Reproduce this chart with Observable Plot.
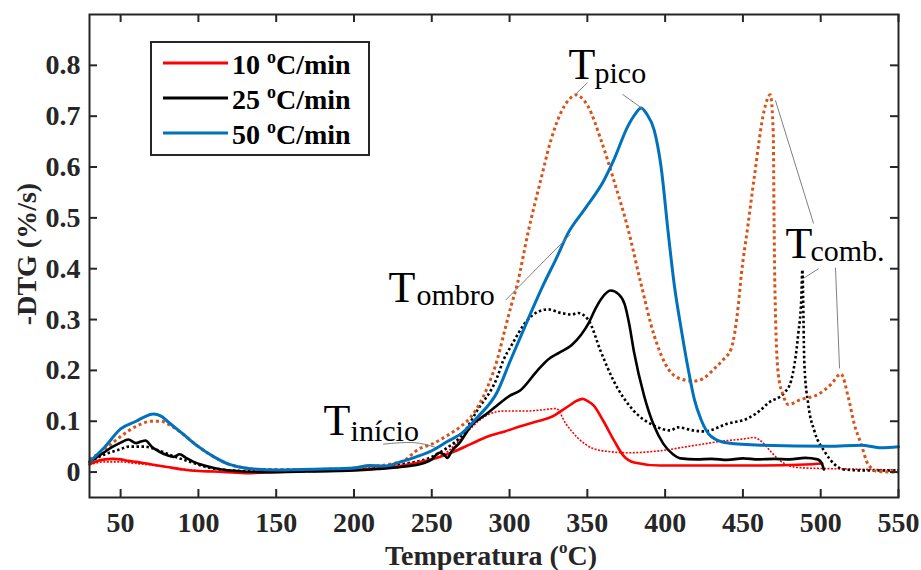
<!DOCTYPE html>
<html><head><meta charset="utf-8">
<script src="https://cdn.jsdelivr.net/npm/d3@7"></script>
<script src="https://cdn.jsdelivr.net/npm/@observablehq/plot@0.6"></script>
<style>body{margin:0;background:#fff}</style>
</head><body><div id="chart"></div>
<script>
const FONT = '"Liberation Serif", "Times New Roman", serif';
const xTicks = [50,100,150,200,250,300,350,400,450,500,550];
const yTicks = [0,0.1,0.2,0.3,0.4,0.5,0.6,0.7,0.8];
const legendLabels = ["10 ", "25 ", "50 "];

// 10 ºC/min (solid red)
const red10 = [[30,0.015],[35,0.022],[40,0.025],[45,0.026],[50,0.025],[55,0.022],[60,0.02],[70,0.015],[80,0.01],[90,0.005],[100,0.002],[110,0.001],[130,-0.002],[150,0],[170,0.002],[190,0.003],[200,0.004],[220,0.008],[240,0.018],[250,0.025],[264,0.04],[275,0.055],[286,0.07],[297,0.08],[307,0.09],[318,0.1],[328,0.11],[333,0.12],[338,0.13],[343,0.14],[347,0.144],[350,0.14],[354,0.131],[360,0.102],[367,0.063],[373,0.033],[380,0.019],[397,0.013],[430,0.013],[462,0.013],[490,0.015],[501,0.017]];
// 25 ºC/min (solid black)
const black25 = [[30,0.02],[35,0.03],[40,0.04],[45,0.05],[50,0.058],[55,0.064],[60,0.057],[63,0.06],[66,0.062],[70,0.05],[75,0.04],[80,0.033],[84,0.03],[88,0.035],[92,0.028],[97,0.02],[105,0.012],[115,0.005],[125,0.002],[140,0],[170,0.001],[190,0.002],[200,0.003],[215,0.006],[230,0.01],[245,0.018],[250,0.025],[255,0.038],[258,0.034],[260,0.028],[263,0.042],[268,0.058],[275,0.09],[286,0.116],[292,0.131],[300,0.15],[307,0.161],[318,0.2],[325,0.222],[332,0.235],[340,0.25],[346,0.27],[351,0.294],[355,0.32],[359,0.341],[365,0.357],[370,0.35],[374,0.33],[377,0.29],[380,0.236],[386.5,0.15],[393,0.09],[399,0.055],[405,0.035],[410,0.027],[420,0.025],[430,0.026],[440,0.024],[450,0.027],[460,0.025],[470,0.026],[480,0.025],[490,0.028],[498,0.025],[501,0.015],[502,0.005]];
// 50 ºC/min (solid blue)
const blue50 = [[30,0.02],[40,0.05],[50,0.085],[60,0.1],[65,0.108],[71,0.114],[76,0.11],[80,0.1],[90,0.075],[100,0.05],[110,0.03],[120,0.015],[130,0.008],[150,0.004],[180,0.006],[200,0.008],[210,0.013],[220,0.012],[230,0.02],[240,0.03],[250,0.042],[260,0.06],[270,0.078],[279.4,0.108],[292,0.157],[300.6,0.22],[311.8,0.3],[322,0.37],[330,0.42],[337.6,0.47],[349,0.52],[360.7,0.574],[367,0.614],[376,0.68],[381,0.705],[384.5,0.716],[388,0.705],[393,0.672],[397.4,0.6],[402,0.47],[405.8,0.37],[410.3,0.282],[414.8,0.203],[418.7,0.144],[423,0.104],[429.6,0.07],[440.5,0.057],[461.8,0.053],[505,0.051],[526,0.053],[539,0.048],[550,0.05]];
// dotted series
const redDot = [[30,0.015],[40,0.02],[50,0.02],[60,0.017],[80,0.01],[100,0.003],[130,0],[160,0.002],[200,0.005],[230,0.012],[250,0.025],[260,0.04],[270,0.07],[280,0.1],[287,0.114],[296,0.12],[310,0.12],[320,0.122],[330,0.125],[336,0.096],[343.6,0.068],[354,0.046],[365,0.04],[375.8,0.038],[397,0.042],[418,0.052],[440,0.062],[450,0.065],[457,0.068],[462,0.06],[468,0.04],[473,0.025],[480,0.012],[490,0.008],[520,0.006],[550,0.004]];
const blackDot = [[30,0.02],[40,0.035],[50,0.045],[55,0.05],[65,0.05],[75,0.042],[85,0.03],[95,0.02],[105,0.01],[115,0.005],[130,0.002],[160,0.002],[200,0.005],[230,0.015],[250,0.03],[260,0.048],[268.7,0.07],[279.4,0.122],[292,0.186],[296,0.22],[301,0.248],[311.8,0.3],[318,0.315],[324.7,0.32],[333,0.313],[340,0.31],[344,0.313],[350.5,0.3],[358.8,0.236],[366.8,0.18],[379.7,0.121],[392.5,0.092],[403.4,0.082],[408,0.088],[418,0.082],[425,0.08],[440,0.095],[453.4,0.106],[461,0.121],[466.3,0.136],[476.6,0.156],[481,0.18],[485.6,0.273],[487.5,0.34],[488.2,0.398],[489.5,0.212],[492,0.133],[496,0.08],[502.6,0.04],[509,0.015],[515,0.005],[530,0.003],[550,0.003]];
const orangeDot = [[30,0.025],[40,0.045],[50,0.07],[60,0.09],[70,0.1],[76,0.1],[80,0.095],[90,0.075],[100,0.05],[110,0.03],[120,0.015],[130,0.008],[140,0.005],[170,0.005],[200,0.008],[230,0.02],[242.7,0.047],[250,0.055],[260,0.072],[268.7,0.09],[275,0.108],[285.8,0.167],[292,0.22],[297,0.28],[301,0.327],[305,0.37],[311.8,0.47],[320,0.574],[326.6,0.653],[333,0.707],[338,0.732],[342.7,0.742],[346,0.737],[350.5,0.719],[358.8,0.653],[367,0.574],[376,0.48],[384.5,0.37],[393,0.268],[402,0.203],[410.3,0.183],[418.7,0.179],[425,0.185],[431.5,0.203],[437,0.22],[442.5,0.243],[447,0.327],[449,0.389],[453,0.48],[457.3,0.58],[463.7,0.712],[467.6,0.742],[469.5,0.667],[470,0.5],[470.5,0.37],[472.7,0.193],[476,0.15],[479,0.133],[487.5,0.143],[498.5,0.153],[506.8,0.173],[513,0.193],[517.8,0.146],[521.6,0.094],[526,0.055],[530.5,0.015],[537,0.001],[550,0]];

const annoT = [
  {x:180.4, y:0.072, sx:197.8, sy:0.062, sub:"início"},
  {x:222.2, y:0.334, sx:240.2, sy:0.328, sub:"ombro"},
  {x:337.9, y:0.774, sx:354.6, sy:0.766, sub:"pico"},
  {x:477.4, y:0.422, sx:493.4, sy:0.416, sub:"comb."}
];
const leaders = [
  [297.4,0.338,339.2,0.468],
  [350.1,0.766,342.4,0.743],
  [372.6,0.743,385.4,0.715],
  [470.9,0.731,495.4,0.489],
  [498.6,0.400,488.9,0.381],
  [509.5,0.402,512.1,0.204]
];
const inicioLeader = [[219,0.055],[238,0.058],[252,0.049]];

const xs = d => d[0], ys = d => d[1];
const tx = 8/1.5558, ty = 8/508.4;
const C = "monotone-x";

const svg = Plot.plot({
  width: 921, height: 570,
  marginLeft: 89, marginRight: 23, marginTop: 14, marginBottom: 73,
  x: {domain: [30, 550]},
  y: {domain: [-0.05, 0.9]},
  style: {fontFamily: FONT, fontSize: "28px", fontWeight: "bold", color: "#262626", background: "white", overflow: "visible"},
  marks: [
    Plot.axisX({ticks: xTicks, tickSize: 0, tickPadding: 15, label: null, fill: "#262626"}),
    Plot.axisY({ticks: yTicks, tickSize: 0, tickPadding: 9, label: null, tickFormat: d => String(d), fill: "#262626"}),
    Plot.line(redDot, {x: xs, y: ys, curve: C, stroke: "#ff0000", strokeWidth: 1.6, strokeDasharray: "2,1.5", strokeLinecap: "butt", strokeLinejoin: "miter"}),
    Plot.line(blackDot, {x: xs, y: ys, curve: C, stroke: "#000000", strokeWidth: 2.6, strokeDasharray: "2.5,2.5", strokeLinecap: "butt", strokeLinejoin: "miter"}),
    Plot.line(orangeDot, {x: xs, y: ys, curve: C, stroke: "#D95319", strokeWidth: 3, strokeDasharray: "3,3", strokeLinecap: "butt", strokeLinejoin: "miter"}),
    Plot.line(red10, {x: xs, y: ys, curve: C, stroke: "#ff0000", strokeWidth: 2.6}),
    Plot.line(black25, {x: xs, y: ys, curve: C, stroke: "#000000", strokeWidth: 2.6}),
    Plot.line(blue50, {x: xs, y: ys, curve: C, stroke: "#0072BD", strokeWidth: 3}),
    Plot.link(leaders, {x1: d=>d[0], y1: d=>d[1], x2: d=>d[2], y2: d=>d[3], stroke: "#808080", strokeWidth: 1}),
    Plot.line(inicioLeader, {x: xs, y: ys, stroke: "#808080", strokeWidth: 1, curve: "natural"}),
    Plot.text(annoT, {x: "x", y: "y", text: () => "T", textAnchor: "start", lineAnchor: "bottom", fontSize: 44, fontWeight: "normal", fill: "black"}),
    Plot.text(annoT, {x: "sx", y: "sy", text: "sub", textAnchor: "start", lineAnchor: "bottom", fontSize: 30, fontWeight: "normal", fill: "black"}),
    Plot.frame({stroke: "#262626", strokeWidth: 2}),
    Plot.ruleX(xTicks, {x: d => d, y1: -0.05, y2: -0.05 + ty, stroke: "#262626", strokeWidth: 2}),
    Plot.ruleX(xTicks, {x: d => d, y1: 0.9, y2: 0.9 - ty, stroke: "#262626", strokeWidth: 2}),
    Plot.ruleY(yTicks, {y: d => d, x1: 30, x2: 30 + tx, stroke: "#262626", strokeWidth: 2}),
    Plot.ruleY(yTicks, {y: d => d, x1: 550, x2: 550 - tx, stroke: "#262626", strokeWidth: 2})
  ]
});

const s = d3.select(svg);
// legend
const lg = s.append("g").attr("font-family", FONT).attr("font-weight", "bold").attr("font-size", 28).attr("text-anchor", "start");
lg.append("rect").attr("x", 151).attr("y", 42).attr("width", 218).attr("height", 113)
  .attr("fill", "white").attr("stroke", "#262626").attr("stroke-width", 2);
const lcolors = ["#ff0000", "#000000", "#0072BD"];
legendLabels.forEach((lab, i) => {
  const y = 63 + i * 35;
  lg.append("line").attr("x1", 163).attr("x2", 228).attr("y1", y).attr("y2", y)
    .attr("stroke", lcolors[i]).attr("stroke-width", 3);
  const t = lg.append("text").attr("x", 232).attr("y", y + 11).attr("fill", "black").attr("text-anchor", "start");
  t.append("tspan").text(lab);
  t.append("tspan").attr("font-size", 18).attr("dy", -11).text("o");
  t.append("tspan").attr("dy", 11).text("C/min");
});
// axis titles
const xt = s.append("text").attr("x", 491).attr("y", 565).attr("text-anchor", "middle")
  .attr("font-family", FONT).attr("font-weight", "bold").attr("font-size", 28).attr("fill", "#262626");
xt.append("tspan").text("Temperatura (");
xt.append("tspan").attr("font-size", 17).attr("dy", -12).text("o");
xt.append("tspan").attr("dy", 12).text("C)");
s.append("text").attr("transform", "translate(36,254) rotate(-90)").attr("text-anchor", "middle")
  .attr("font-family", FONT).attr("font-weight", "bold").attr("font-size", 28).attr("fill", "#262626")
  .text("-DTG (%/s)");

document.getElementById("chart").appendChild(svg);
</script></body></html>
